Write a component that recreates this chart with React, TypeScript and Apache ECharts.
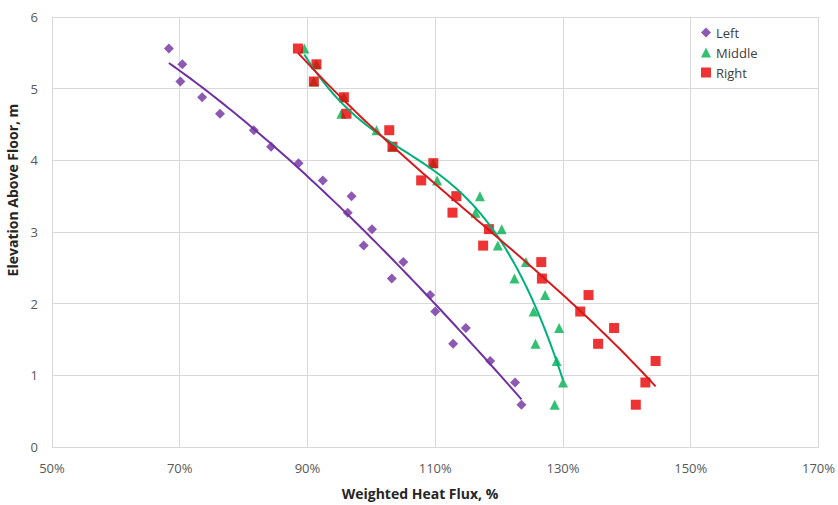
import React, { useEffect, useRef } from "react";
import * as echarts from "echarts";

const heights = [5.56, 5.34, 5.1, 4.88, 4.65, 4.42, 4.19, 3.96, 3.72, 3.5, 3.27, 3.04, 2.81, 2.58, 2.35, 2.12, 1.89, 1.66, 1.44, 1.2, 0.9, 0.59];
const leftFlux = [68.3, 70.4, 70.1, 73.5, 76.3, 81.6, 84.3, 88.6, 92.4, 96.9, 96.3, 100.1, 98.8, 105.0, 103.2, 109.2, 110.0, 114.8, 112.8, 118.6, 122.5, 123.5];
const middleFlux = [89.5, 91.4, 91.0, 95.7, 95.3, 100.8, 103.3, 109.7, 110.3, 117.0, 116.3, 120.4, 119.8, 124.2, 122.4, 127.2, 125.4, 129.4, 125.7, 129.0, 130.0, 128.7];
const rightFlux = [88.5, 91.4, 91.0, 95.7, 96.1, 102.8, 103.3, 109.7, 107.8, 113.3, 112.7, 118.4, 117.5, 126.6, 126.7, 134.0, 132.7, 138.0, 135.5, 144.5, 142.9, 141.4];
const trendOrders = [3, 3, 3];
const xTicks = [50, 70, 90, 110, 130, 150, 170];

function solve(A: number[][], b: number[]): number[] {
  const n = b.length;
  const M = A.map((r, i) => [...r, b[i]]);
  for (let i = 0; i < n; i++) {
    let p = i;
    for (let k = i + 1; k < n; k++) if (Math.abs(M[k][i]) > Math.abs(M[p][i])) p = k;
    [M[i], M[p]] = [M[p], M[i]];
    for (let k = i + 1; k < n; k++) {
      const f = M[k][i] / M[i][i];
      for (let j = i; j <= n; j++) M[k][j] -= f * M[i][j];
    }
  }
  const x = new Array(n).fill(0);
  for (let i = n - 1; i >= 0; i--) {
    let s = M[i][n];
    for (let j = i + 1; j < n; j++) s -= M[i][j] * x[j];
    x[i] = s / M[i][i];
  }
  return x;
}

function polyFit(xs: number[], ys: number[], order: number, steps = 80): number[][] {
  const mean = xs.reduce((a, b) => a + b, 0) / xs.length;
  const n = order + 1;
  const A = Array.from({ length: n }, () => new Array(n).fill(0));
  const b = new Array(n).fill(0);
  xs.forEach((xv, i) => {
    const t = xv - mean;
    for (let r = 0; r < n; r++) {
      b[r] += Math.pow(t, r) * ys[i];
      for (let c = 0; c < n; c++) A[r][c] += Math.pow(t, r + c);
    }
  });
  const coef = solve(A, b);
  const lo = Math.min(...xs);
  const hi = Math.max(...xs);
  const out: number[][] = [];
  for (let s = 0; s <= steps; s++) {
    const xv = lo + ((hi - lo) * s) / steps;
    const t = xv - mean;
    let y = 0;
    for (let r = 0; r < n; r++) y += coef[r] * Math.pow(t, r);
    out.push([xv, y]);
  }
  return out;
}

const pairs = (xs: number[]) => xs.map((v, i) => [v, heights[i]]);

export default function App() {
  const ref = useRef<HTMLDivElement>(null);
  useEffect(() => {
    if (!ref.current) return;
    const chart = echarts.init(ref.current, undefined, { renderer: "svg" });
    const font = "'Open Sans', 'Liberation Sans', sans-serif";
    const grid = "#D9D9D9";
    chart.setOption({
      animation: false,
      backgroundColor: "#fff",
      textStyle: { fontFamily: font },
      grid: { left: 52, right: 18, top: 17, bottom: 58 },
      legend: {
        orient: "vertical",
        left: 696,
        top: 21,
        itemGap: 7,
        itemWidth: 10,
        itemHeight: 10,
        textStyle: { fontFamily: font, fontSize: 13, color: "#404040" },
        data: [
          { name: "Left", icon: "diamond" },
          { name: "Middle", icon: "triangle" },
          { name: "Right", icon: "rect" },
        ],
      },
      xAxis: {
        type: "value",
        min: 50,
        max: 170,
        interval: 20,
        axisLine: { show: true, lineStyle: { color: grid } },
        axisTick: { show: false },
        splitLine: { show: true, lineStyle: { color: grid } },
        axisLabel: { formatter: (v: number) => (xTicks.includes(v) ? v + "%" : ""), color: "#595959", fontSize: 13, margin: 14, fontFamily: font },
      },
      yAxis: {
        type: "value",
        min: 0,
        max: 6,
        interval: 1,
        axisLine: { show: true, lineStyle: { color: grid } },
        axisTick: { show: false },
        splitLine: { show: true, lineStyle: { color: grid } },
        axisLabel: { color: "#595959", fontSize: 13, margin: 14, fontFamily: font },
      },
      graphic: [
        { type: "text", x: 12, y: 190, rotation: Math.PI / 2, style: { text: "Elevation Above Floor, m", font: `bold 14px ${font}`, fill: "#262626", align: "center", verticalAlign: "middle" } },
        { type: "text", x: 420, y: 493, style: { text: "Weighted Heat Flux, %", font: `bold 14px ${font}`, fill: "#262626", align: "center", verticalAlign: "middle" } },
      ],
      series: [
        { name: "Left", type: "scatter", symbol: "diamond", symbolSize: 10, itemStyle: { color: "#7030A0" }, data: pairs(leftFlux), z: 2 },
        { name: "Middle", type: "scatter", symbol: "triangle", symbolSize: 10, itemStyle: { color: "#00B050" }, data: pairs(middleFlux), z: 3 },
        { name: "Right", type: "scatter", symbol: "rect", symbolSize: 10, itemStyle: { color: "#E80000" }, data: pairs(rightFlux), z: 4 },
        { name: "LeftTrend", type: "line", showSymbol: false, smooth: false, lineStyle: { color: "#7030A0", width: 2 }, data: polyFit(leftFlux, heights, trendOrders[0]), z: 5 },
        { name: "MiddleTrend", type: "line", showSymbol: false, smooth: false, lineStyle: { color: "#00B07A", width: 2 }, data: polyFit(middleFlux, heights, trendOrders[1]), z: 5 },
        { name: "RightTrend", type: "line", showSymbol: false, smooth: false, lineStyle: { color: "#D41A1A", width: 2 }, data: polyFit(rightFlux, heights, trendOrders[2]), z: 5 },
      ],
    });
    return () => chart.dispose();
  }, []);
  return <div ref={ref} style={{ width: 838, height: 505, position: "absolute", left: 0, top: 0 }} />;
}
